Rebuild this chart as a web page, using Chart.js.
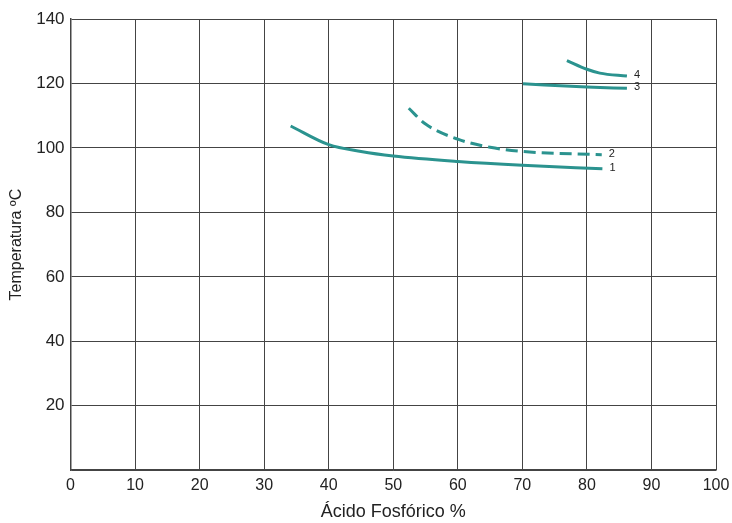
<!DOCTYPE html>
<html>
<head>
<meta charset="utf-8">
<script src="https://cdn.jsdelivr.net/npm/chart.js@4/dist/chart.umd.min.js"></script>
<style>
  html, body { margin: 0; padding: 0; background: #fff; }
  #wrap { width: 732px; height: 523px; }
</style>
</head>
<body>
<div id="wrap"><canvas id="chart"></canvas></div>
<script>
// Curve data (x = % ácido fosfórico, y = temperatura ºC)
const curve1X = [34.1, 40, 45, 50, 60, 70, 82.4];
const curve1Y = [106.8, 101, 98.9, 97.5, 95.8, 94.6, 93.5];
const curve2X = [52.4, 55, 60, 65, 70, 82.3];
const curve2Y = [112.3, 107.4, 102.7, 100.2, 98.9, 97.9];
const curve3X = [70.1, 80, 86.2];
const curve3Y = [119.9, 118.9, 118.5];
const curve4X = [76.9, 80, 82, 86.2];
const curve4Y = [127.1, 124.4, 123.2, 122.3];
const curveLabels = ["1", "2", "3", "4"];
const xTicks = [0, 10, 20, 30, 40, 50, 60, 70, 80, 90, 100];
const yTicks = [0, 20, 40, 60, 80, 100, 120, 140];

const teal = "#2b938f";
const font = "'Liberation Sans', Arial, sans-serif";

function toPoints(xs, ys) {
  return xs.map((x, i) => ({ x: x, y: ys[i] }));
}

function makeSet(label, xs, ys, dashed) {
  return {
    label: label,
    data: toPoints(xs, ys),
    borderColor: teal,
    borderWidth: 3,
    borderDash: dashed ? [12, 6] : [],
    pointRadius: 0,
    fill: false,
    cubicInterpolationMode: "monotone",
  };
}

// writes the small curve number at the end of each line
const endLabels = {
  id: "endLabels",
  afterDatasetsDraw(chart) {
    const ctx = chart.ctx;
    ctx.save();
    ctx.fillStyle = "#222";
    ctx.font = "11px " + font;
    ctx.textBaseline = "middle";
    chart.data.datasets.forEach((ds, i) => {
      const last = ds.data[ds.data.length - 1];
      const px = chart.scales.x.getPixelForValue(last.x);
      const py = chart.scales.y.getPixelForValue(last.y);
      ctx.fillText(curveLabels[i], px + 7, py - 1);
    });
    ctx.restore();
  },
};

const ctx = document.getElementById("chart").getContext("2d");
new Chart(ctx, {
  type: "line",
  data: {
    datasets: [
      makeSet("1", curve1X, curve1Y, false),
      makeSet("2", curve2X, curve2Y, true),
      makeSet("3", curve3X, curve3Y, false),
      makeSet("4", curve4X, curve4Y, false),
    ],
  },
  options: {
    responsive: true,
    maintainAspectRatio: false,
    animation: false,
    layout: { padding: { top: 19, right: 0, left: 7, bottom: 0 } },
    scales: {
      x: {
        type: "linear",
        min: 0,
        max: 100,
        afterBuildTicks: (axis) => {
          axis.ticks = xTicks.map((v) => ({ value: v }));
        },
        afterFit: (axis) => {
          // let the "100" label run up to the page edge like the original
          axis.paddingRight = 16;
        },
        grid: { color: "#444", lineWidth: 1, drawTicks: false },
        border: { color: "#444", width: 1.5 },
        ticks: {
          color: "#222",
          padding: 6,
          font: { family: font, size: 16 },
          maxRotation: 0,
        },
        title: {
          display: true,
          text: "Ácido Fosfórico %",
          color: "#222",
          font: { family: font, size: 18 },
          padding: { top: 0, bottom: 0 },
        },
      },
      y: {
        min: 0,
        max: 140,
        afterBuildTicks: (axis) => {
          axis.ticks = yTicks.map((v) => ({ value: v }));
        },
        grid: { color: "#444", lineWidth: 1, drawTicks: false },
        border: { color: "#444", width: 1.5 },
        ticks: {
          color: "#222",
          padding: 6,
          font: { family: font, size: 17 },
          callback: (v) => (v === 0 ? "" : v),
        },
        title: {
          display: true,
          text: "Temperatura ºC",
          color: "#222",
          font: { family: font, size: 16 },
          padding: { top: 0, bottom: 4 },
        },
      },
    },
    plugins: {
      legend: { display: false },
      tooltip: { enabled: false },
    },
  },
  plugins: [endLabels],
});
</script>
</body>
</html>
